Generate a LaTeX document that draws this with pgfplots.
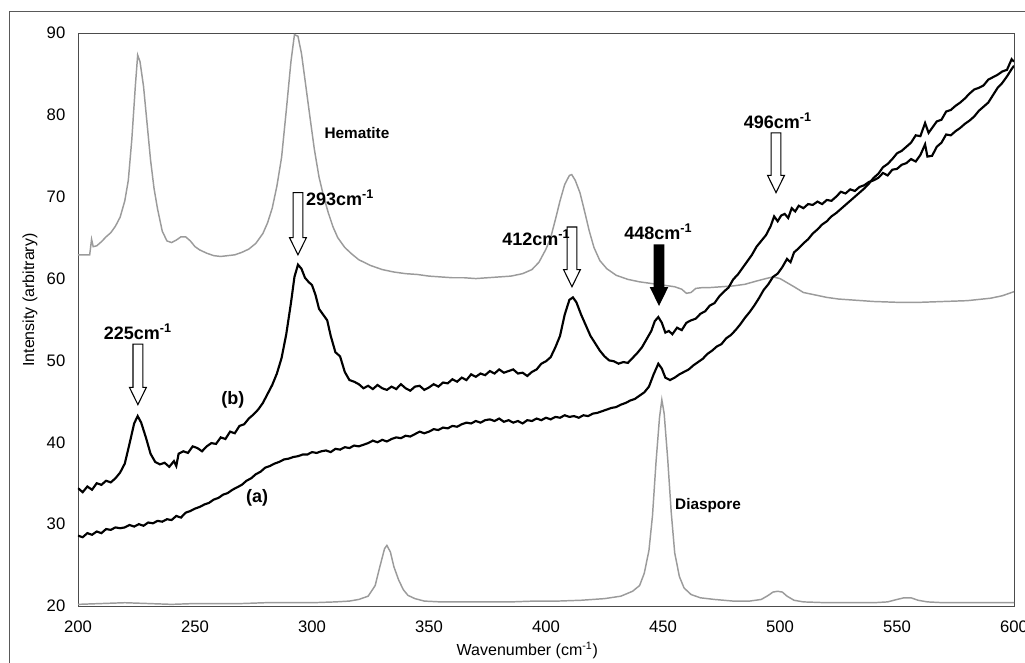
\documentclass[border=0pt]{standalone}
\usepackage{fontspec}
\setmainfont{Liberation Sans}
\usepackage{pgfplots}
\pgfplotsset{compat=1.18}
\definecolor{specgray}{RGB}{155,155,155}
\newcommand{\harrow}[4][]{%
  \draw[#1] (axis cs:{#2-2.1},#4) -- (axis cs:{#2+2.1},#4) -- (axis cs:{#2+2.1},{#3+2.1}) -- (axis cs:{#2+3.6},{#3+2.1}) -- (axis cs:#2,#3) -- (axis cs:{#2-3.6},{#3+2.1}) -- (axis cs:{#2-2.1},{#3+2.1}) -- cycle;}
\begin{document}
\begin{tikzpicture}
\useasboundingbox (-58.5pt,-42.75pt) rectangle (710.25pt,454.5pt);
\draw[black!65, line width=0.6pt] (-51.75pt,-60pt) -- (-51.75pt,446.25pt) -- (730pt,446.25pt);
\begin{axis}[
  scale only axis, width=702pt, height=429.75pt,
  xmin=200, xmax=600, ymin=20, ymax=90,
  xtick={200,250,...,600}, ytick={20,30,...,90},
  major tick length=0pt,
  axis line style={black!70, line width=0.6pt},
  /pgf/number format/assume math mode=true,
  tick label style={font=\fontsize{12.5}{14}\selectfont},
  xticklabel style={yshift=-7.5pt},
  yticklabel style={xshift=-6pt},
  xlabel={Wavenumber (cm\textsuperscript{-1})},
  ylabel={Intensity (arbitrary)},
  label style={font=\fontsize{12}{14}\selectfont},
  xlabel style={at={(axis description cs:0.48,-0.077)}, anchor=center},
  ylabel style={at={(axis description cs:-0.0513,0.534)}, anchor=center, rotate=0},
]
% Hematite
\addplot[specgray, line width=1.1pt] coordinates {
(200,62.9)(203,62.9)(205,62.9)(205.8,64.8)(206.5,63.9)(208,64.0)(210,64.5)(212,65.1)(214,65.6)(216,66.4)(218,67.5)(220,69.5)(221.5,72.0)(223,77.0)(224.5,83.5)(225.5,87.3)(226.5,86.5)(228,83.5)(229.5,79.0)(231,74.5)(232.5,71.0)(234,68.5)(236,65.8)(238,64.6)(240,64.4)(242,64.7)(244,65.1)(246,65.1)(248,64.6)(250,63.9)(252,63.5)(255,63.1)(258,62.8)(261,62.7)(264,62.8)(267,62.9)(270,63.2)(273,63.6)(276,64.3)(279,65.5)(281,66.8)(283,68.6)(285,71.3)(287,74.8)(289,80.5)(291,86.5)(292.5,89.8)(294,89.6)(295.5,87.5)(297,84.3)(299,80.0)(301,75.8)(303,72.4)(305,70.0)(307,68.0)(309,66.3)(311,65.0)(314,63.8)(317,63.0)(320,62.3)(325,61.6)(330,61.1)(335,60.8)(340,60.6)(345,60.5)(350,60.3)(355,60.2)(360,60.1)(365,60.1)(370,60.0)(375,60.1)(380,60.2)(385,60.3)(390,60.6)(394,61.1)(397,62.0)(400,63.6)(402,65.0)(404,67.2)(406,69.5)(408,71.5)(410,72.6)(411,72.7)(412.5,72.0)(414.5,70.5)(416.5,68.2)(418.5,65.8)(420.5,63.8)(423,62.2)(426,61.2)(430,60.4)(435,59.9)(440,59.6)(445,59.4)(450,59.2)(455,59.0)(458,58.7)(460,58.2)(462,58.3)(464,58.8)(467,58.9)(470,58.9)(475,59.0)(480,59.1)(485,59.3)(490,59.7)(494,60.0)(497,60.2)(500,60.0)(503,59.5)(506,59.0)(510,58.3)(515,58.0)(520,57.7)(525,57.5)(530,57.4)(540,57.2)(550,57.1)(560,57.1)(570,57.2)(580,57.3)(590,57.6)(595,57.9)(600,58.4)
};
% Diaspore
\addplot[specgray, line width=1.1pt] coordinates {
(200,20.2)(210,20.3)(220,20.4)(230,20.3)(240,20.2)(250,20.3)(260,20.3)(270,20.3)(280,20.4)(290,20.4)(300,20.4)(310,20.5)(316,20.6)(320,20.8)(324,21.2)(327,22.5)(329,24.8)(331,27.0)(332,27.4)(333.5,26.6)(335,24.8)(337,23.2)(339,22.0)(341,21.3)(344,20.9)(348,20.6)(355,20.5)(365,20.5)(375,20.5)(385,20.5)(395,20.6)(405,20.6)(415,20.7)(425,20.9)(432,21.2)(437,21.8)(440,22.5)(442,24.0)(444,26.8)(445.5,31.0)(447,37.5)(448.5,43.0)(449.5,45.2)(450.5,43.5)(452,38.0)(453.5,31.5)(455,26.5)(457,23.6)(459,22.2)(462,21.4)(466,21.0)(472,20.8)(480,20.6)(487,20.6)(492,20.8)(495,21.3)(497,21.7)(499,21.8)(501,21.7)(503,21.2)(506,20.7)(510,20.5)(520,20.4)(530,20.4)(540,20.4)(546,20.5)(550,20.8)(553,21.0)(556,21.0)(559,20.7)(563,20.5)(570,20.4)(580,20.4)(590,20.4)(600,20.4)
};
% (b)
\addplot[black, line width=1.6pt] coordinates {
(200,34.4)(202,33.9)(204,34.6)(206,34.2)(208,35.0)(210,34.8)(212,35.3)(214,35.1)(216,35.6)(218,36.3)(220,37.4)(222,39.8)(224,42.3)(225.5,43.2)(227,42.4)(229,40.6)(231,38.6)(233,37.6)(235,37.3)(237,37.5)(239,37.0)(241,37.7)(242,37.1)(243,38.6)(245,38.9)(247,38.7)(249,39.5)(251,39.3)(253,38.9)(255,39.5)(257,39.9)(259,39.8)(261,40.6)(263,40.4)(265,41.3)(267,41.1)(269,42.0)(271,42.2)(273,42.9)(275,43.4)(277,44.0)(279,44.8)(281,45.9)(283,47.0)(285,48.4)(287,50.3)(289,53.2)(291,57.0)(292.5,60.2)(294,61.7)(295.5,61.2)(297,60.1)(298.5,59.6)(300,59.2)(301.5,58.0)(303,56.3)(305,55.5)(306.5,54.9)(308,53.0)(310,51.0)(312,50.5)(314,48.6)(316,47.6)(318,47.4)(320,47.1)(322,46.6)(324,46.9)(326,46.5)(328,47.0)(330,46.6)(332,46.4)(334,46.8)(336,46.5)(338,47.1)(340,46.6)(342,46.3)(344,46.8)(346,46.9)(348,46.4)(350,46.7)(352,47.1)(354,46.8)(356,47.3)(358,47.2)(360,47.7)(362,47.4)(364,47.9)(366,47.6)(368,48.3)(370,48.0)(372,48.4)(374,48.2)(376,48.7)(378,48.4)(380,48.9)(382,48.5)(384,48.7)(386,48.9)(388,48.4)(390,48.5)(392,48.1)(394,48.6)(396,48.9)(398,49.6)(400,49.9)(402,50.4)(404,51.6)(406,53.0)(408,55.6)(410,57.4)(411.5,57.7)(413,57.1)(415,55.6)(417,54.3)(419,53.0)(421,52.1)(423,51.2)(425,50.5)(427,50.0)(429,49.9)(431,49.6)(433,49.8)(435,49.7)(437,50.3)(439,50.9)(441,51.6)(443,52.6)(445,53.6)(446.5,54.8)(448,55.3)(449.5,54.6)(451,53.4)(452.5,53.6)(454,53.2)(456,54.0)(458,53.7)(460,54.6)(462,54.9)(464,55.1)(466,55.7)(468,56.0)(470,56.7)(472,57.0)(474,57.8)(476,58.4)(478,58.9)(480,59.9)(482,60.5)(484,61.3)(486,62.1)(488,62.9)(490,63.9)(492,64.6)(494,65.3)(496,66.4)(497.5,67.6)(499,67.0)(500.5,67.7)(502,67.9)(503.5,67.4)(505,68.6)(506.5,68.2)(508,68.9)(510,68.6)(512,69.1)(514,69.0)(516,69.4)(518,69.1)(520,69.6)(522,69.5)(524,70.0)(526,70.6)(528,70.4)(530,70.9)(532,70.7)(534,71.2)(536,71.4)(538,71.8)(540,72.0)(542,72.3)(544,72.9)(546,72.6)(548,73.3)(550,73.4)(552,73.9)(554,74.1)(556,74.6)(558,74.3)(560,75.1)(562,76.4)(563,74.9)(565,75.0)(567,76.1)(569,76.6)(571,77.6)(573,77.5)(575,78.0)(577,78.4)(579,78.9)(581,79.3)(583,79.8)(585,80.5)(587,81.0)(589,81.5)(591,82.4)(593,83.3)(595,83.9)(597,84.7)(599,85.6)(600,86.0)
};
% (a)
\addplot[black, line width=1.6pt] coordinates {
(200,28.6)(202,28.4)(204,28.9)(206,28.7)(208,29.1)(210,28.9)(212,29.4)(214,29.3)(216,29.6)(218,29.5)(220,29.6)(222,29.9)(224,29.7)(226,30.0)(228,29.8)(230,30.2)(232,30.1)(234,30.4)(236,30.3)(238,30.6)(240,30.5)(242,31.0)(244,30.8)(246,31.4)(248,31.6)(250,31.9)(252,32.1)(254,32.4)(256,32.6)(258,33.0)(260,33.2)(262,33.6)(264,33.8)(266,34.2)(268,34.5)(270,34.8)(272,35.3)(274,35.6)(276,36.1)(278,36.4)(280,36.9)(282,37.1)(284,37.4)(286,37.6)(288,37.9)(290,38.0)(292,38.2)(294,38.3)(296,38.5)(298,38.5)(300,38.8)(302,38.7)(304,38.9)(306,39.0)(308,38.8)(310,39.2)(312,39.1)(314,39.4)(316,39.3)(318,39.6)(320,39.5)(322,39.7)(324,39.9)(326,40.2)(328,40.0)(330,40.3)(332,40.1)(334,40.4)(336,40.6)(338,40.5)(340,40.8)(342,40.7)(344,41.0)(346,41.3)(348,41.1)(350,41.3)(352,41.6)(354,41.5)(356,41.8)(358,41.7)(360,42.0)(362,41.9)(364,42.2)(366,42.4)(368,42.3)(370,42.6)(372,42.4)(374,42.7)(376,42.8)(378,42.6)(380,42.9)(382,42.5)(384,42.7)(386,42.4)(388,42.6)(390,42.3)(392,42.7)(394,42.6)(396,42.9)(398,42.7)(400,43.0)(402,42.8)(404,43.1)(406,43.0)(408,43.3)(410,43.1)(412,43.2)(414,43.0)(416,43.3)(418,43.2)(420,43.5)(422,43.6)(424,43.8)(426,44.0)(428,44.2)(430,44.3)(432,44.6)(434,44.8)(436,45.1)(438,45.3)(440,45.7)(442,46.1)(444,46.8)(446,48.3)(448,49.6)(449.5,49.0)(451,47.9)(453,47.6)(455,47.9)(457,48.3)(459,48.6)(461,48.9)(463,49.4)(465,49.8)(467,50.2)(469,50.8)(471,51.2)(473,51.7)(475,52.0)(477,52.7)(479,53.1)(481,53.7)(483,54.4)(485,55.2)(487,55.9)(489,56.7)(491,57.6)(493,58.6)(495,59.3)(497,60.2)(499,60.6)(501,61.4)(503,62.4)(504.5,62.0)(506,63.2)(508,63.7)(510,64.3)(512,64.8)(514,65.5)(516,66.0)(518,66.6)(520,67.0)(522,67.6)(524,68.0)(526,68.5)(528,69.0)(530,69.5)(532,70.0)(534,70.5)(536,71.0)(538,71.6)(540,72.3)(542,72.8)(544,73.6)(546,74.0)(548,74.6)(550,75.3)(552,75.6)(554,76.1)(556,76.6)(558,77.5)(560,77.4)(562,79.0)(563.5,77.8)(565,78.4)(567,79.2)(569,79.4)(571,80.4)(573,80.6)(575,81.1)(577,81.5)(579,82.0)(581,82.6)(583,83.1)(585,83.3)(587,83.6)(589,84.3)(591,84.6)(593,84.9)(595,85.3)(597,85.5)(599,86.8)(600,86.5)
};
% arrows
\harrow[draw=black, fill=white, line width=0.8pt]{225.6}{44.6}{52.0}
\harrow[draw=black, fill=white, line width=0.8pt]{294}{62.9}{70.5}
\harrow[draw=black, fill=white, line width=0.8pt]{411.1}{59.0}{66.3}
\harrow[draw=black, fill=black, line width=0.8pt]{448.3}{56.8}{64.1}
\harrow[draw=black, fill=white, line width=0.8pt]{498.3}{70.5}{77.8}
% labels
\node[anchor=base, font=\fontsize{13.5}{15}\selectfont\bfseries] at (axis cs:225.6,52.6) {225cm\textsuperscript{-1}};
\node[anchor=base west, inner sep=0pt, font=\fontsize{13.5}{15}\selectfont\bfseries] at (axis cs:297.4,68.9) {293cm\textsuperscript{-1}};
\node[anchor=base east, inner sep=0pt, font=\fontsize{13.5}{15}\selectfont\bfseries] at (axis cs:410.5,64.0) {412cm\textsuperscript{-1}};
\node[anchor=base, font=\fontsize{13.5}{15}\selectfont\bfseries] at (axis cs:448.0,64.8) {448cm\textsuperscript{-1}};
\node[anchor=base, font=\fontsize{13.5}{15}\selectfont\bfseries] at (axis cs:499.1,78.3) {496cm\textsuperscript{-1}};
\node[anchor=base, font=\fontsize{11.5}{13}\selectfont\bfseries] at (axis cs:319.2,77.1) {Hematite};
\node[anchor=base west, inner sep=0pt, font=\fontsize{11.5}{13}\selectfont\bfseries] at (axis cs:455.1,31.8) {Diaspore};
\node[font=\fontsize{13.5}{15}\selectfont\bfseries] at (axis cs:266.2,45.2) {(b)};
\node[font=\fontsize{13.5}{15}\selectfont\bfseries] at (axis cs:276.5,33.2) {(a)};
\end{axis}
\end{tikzpicture}
\end{document}
